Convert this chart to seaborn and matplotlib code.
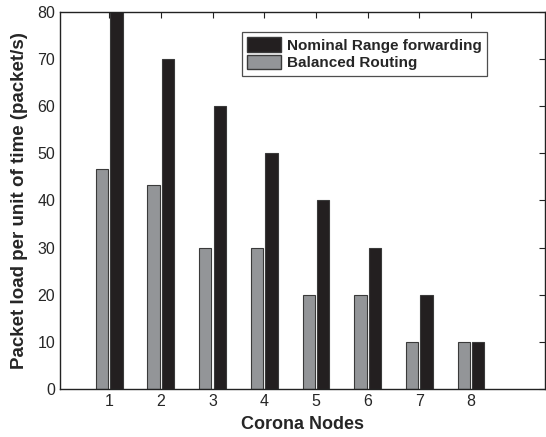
import matplotlib
matplotlib.use("Agg")
import matplotlib.pyplot as plt
import seaborn as sns
import pandas as pd
from matplotlib.patches import Patch

nodes = ["1", "2", "3", "4", "5", "6", "7", "8"]
nominal = [80, 70, 60, 50, 40, 30, 20, 10]
balanced = [46.7, 43.3, 30, 30, 20, 20, 10, 10]
series_names = ["Balanced Routing", "Nominal Range forwarding"]
yticks = [0, 10, 20, 30, 40, 50, 60, 70, 80]

df = pd.DataFrame({
    "node": nodes * 2,
    "load": balanced + nominal,
    "series": [series_names[0]] * len(nodes) + [series_names[1]] * len(nodes),
})

sns.set_style("white")
plt.rcParams['font.family'] = ['Liberation Sans', 'DejaVu Sans']

fig = plt.figure(figsize=(5.46, 4.37), dpi=100)
ax = fig.add_axes([0.110, 0.110, 0.888, 0.8625])

colors = {"Balanced Routing": "#939598", "Nominal Range forwarding": "#231f20"}
sns.barplot(data=df, x="node", y="load", hue="series", hue_order=series_names,
            palette=colors, width=0.56, gap=0.15, ax=ax, edgecolor="#3a3a3a",
            linewidth=0.8, legend=False, saturation=1)

ax.set_xlim(-0.95, 8.43)
ax.set_ylim(0, 80)
ax.set_yticks(yticks)
ax.set_yticklabels([str(v) for v in yticks], fontsize=11.5)
ax.tick_params(axis="x", labelsize=11.5)
ax.tick_params(direction="in", top=True, right=True, length=4, width=0.8, color="#222222")
for s in ax.spines.values():
    s.set_visible(True)
    s.set_color("#222222")
    s.set_linewidth(1.0)

ax.set_xlabel("Corona Nodes", fontsize=13, fontweight="bold", labelpad=5)
ax.set_ylabel("Packet load per unit of time (packet/s)", fontsize=13.5, fontweight="bold", labelpad=7)

handles = [Patch(facecolor=colors[series_names[1]], edgecolor="#3a3a3a", label=series_names[1]),
           Patch(facecolor=colors[series_names[0]], edgecolor="#3a3a3a", label=series_names[0])]
leg = ax.legend(handles=handles, loc="upper left", bbox_to_anchor=(0.375, 0.947),
                frameon=True, fancybox=False, edgecolor="#222222",
                prop={"weight": "bold", "size": 11}, handlelength=2.2, handleheight=1.05,
                borderpad=0.35, labelspacing=0.15, handletextpad=0.4, borderaxespad=0)
leg.get_frame().set_linewidth(0.9)

fig.savefig("out.png", dpi=100)
